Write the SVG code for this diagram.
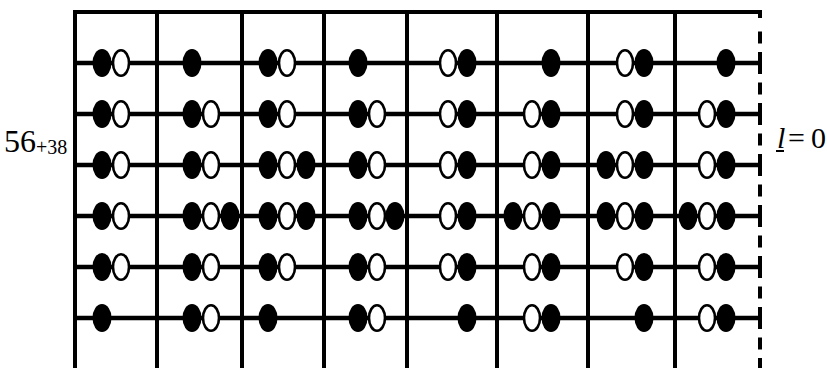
<svg xmlns="http://www.w3.org/2000/svg" xmlns:xlink="http://www.w3.org/1999/xlink" width="827" height="368" viewBox="0 0 827 368">
<style>
.ln{stroke:#000;stroke-width:4;fill:none}
.row{stroke:#000;stroke-width:4.5;fill:none}
.lbl{font-family:"Liberation Serif","Times New Roman",serif;fill:#000}
</style>
<defs>
<ellipse id="F" cx="0" cy="0" rx="9.5" ry="14" fill="#000"/>
<ellipse id="O" cx="0" cy="0" rx="8" ry="12.8" fill="#fff" stroke="#000" stroke-width="2.6"/>
</defs>
<rect width="827" height="368" fill="#fff"/>
<g id="connectors">
<path class="ln" d="M73 12H762"/>
<path class="ln" d="M75 12V368M157 12V368M242 12V368M324 12V368M407 12V368M497 12V368M588 12V368M675 12V368"/>
<path class="row" d="M75 63H760M75 114H760M75 165H760M75 216H760M75 267H760M75 318H760"/>
<path class="ln" d="M760 10V18M760 31.5V43.5M760 52V74M760 82.5V94.5M760 103V125M760 133.5V145.5M760 154V176M760 184.5V196.5M760 205V227M760 235.5V247.5M760 256V278M760 286.5V298.5M760 307V329M760 337.5V349.5M760 358V368"/>
</g>
<g id="r1">
<g id="r1c1"><use href="#O" x="121" y="63"/><use href="#F" x="102" y="63"/></g>
<g id="r1c2"><use href="#F" x="192" y="63"/></g>
<g id="r1c3"><use href="#O" x="287" y="63"/><use href="#F" x="268" y="63"/></g>
<g id="r1c4"><use href="#F" x="358" y="63"/></g>
<g id="r1c5"><use href="#O" x="448" y="63"/><use href="#F" x="467" y="63"/></g>
<g id="r1c6"><use href="#F" x="551" y="63"/></g>
<g id="r1c7"><use href="#O" x="625" y="63"/><use href="#F" x="644" y="63"/></g>
<g id="r1c8"><use href="#F" x="726" y="63"/></g>
</g>
<g id="r2">
<g id="r2c1"><use href="#O" x="121" y="114"/><use href="#F" x="102" y="114"/></g>
<g id="r2c2"><use href="#O" x="211" y="114"/><use href="#F" x="192" y="114"/></g>
<g id="r2c3"><use href="#O" x="287" y="114"/><use href="#F" x="268" y="114"/></g>
<g id="r2c4"><use href="#O" x="377" y="114"/><use href="#F" x="358" y="114"/></g>
<g id="r2c5"><use href="#O" x="448" y="114"/><use href="#F" x="467" y="114"/></g>
<g id="r2c6"><use href="#O" x="532" y="114"/><use href="#F" x="551" y="114"/></g>
<g id="r2c7"><use href="#O" x="625" y="114"/><use href="#F" x="644" y="114"/></g>
<g id="r2c8"><use href="#O" x="707" y="114"/><use href="#F" x="726" y="114"/></g>
</g>
<g id="r3">
<g id="r3c1"><use href="#O" x="121" y="165"/><use href="#F" x="102" y="165"/></g>
<g id="r3c2"><use href="#O" x="211" y="165"/><use href="#F" x="192" y="165"/></g>
<g id="r3c3"><use href="#O" x="287" y="165"/><use href="#F" x="268" y="165"/><use href="#F" x="306" y="165"/></g>
<g id="r3c4"><use href="#O" x="377" y="165"/><use href="#F" x="358" y="165"/></g>
<g id="r3c5"><use href="#O" x="448" y="165"/><use href="#F" x="467" y="165"/></g>
<g id="r3c6"><use href="#O" x="532" y="165"/><use href="#F" x="551" y="165"/></g>
<g id="r3c7"><use href="#O" x="625" y="165"/><use href="#F" x="606" y="165"/><use href="#F" x="644" y="165"/></g>
<g id="r3c8"><use href="#O" x="707" y="165"/><use href="#F" x="726" y="165"/></g>
</g>
<g id="r4">
<g id="r4c1"><use href="#O" x="121" y="216"/><use href="#F" x="102" y="216"/></g>
<g id="r4c2"><use href="#O" x="211" y="216"/><use href="#F" x="192" y="216"/><use href="#F" x="230" y="216"/></g>
<g id="r4c3"><use href="#O" x="287" y="216"/><use href="#F" x="268" y="216"/><use href="#F" x="306" y="216"/></g>
<g id="r4c4"><use href="#O" x="377" y="216"/><use href="#F" x="358" y="216"/><use href="#F" x="395" y="216"/></g>
<g id="r4c5"><use href="#O" x="448" y="216"/><use href="#F" x="467" y="216"/></g>
<g id="r4c6"><use href="#O" x="532" y="216"/><use href="#F" x="513" y="216"/><use href="#F" x="551" y="216"/></g>
<g id="r4c7"><use href="#O" x="625" y="216"/><use href="#F" x="606" y="216"/><use href="#F" x="644" y="216"/></g>
<g id="r4c8"><use href="#O" x="707" y="216"/><use href="#F" x="688" y="216"/><use href="#F" x="726" y="216"/></g>
</g>
<g id="r5">
<g id="r5c1"><use href="#O" x="121" y="267"/><use href="#F" x="102" y="267"/></g>
<g id="r5c2"><use href="#O" x="211" y="267"/><use href="#F" x="192" y="267"/></g>
<g id="r5c3"><use href="#O" x="287" y="267"/><use href="#F" x="268" y="267"/></g>
<g id="r5c4"><use href="#O" x="377" y="267"/><use href="#F" x="358" y="267"/></g>
<g id="r5c5"><use href="#O" x="448" y="267"/><use href="#F" x="467" y="267"/></g>
<g id="r5c6"><use href="#O" x="532" y="267"/><use href="#F" x="551" y="267"/></g>
<g id="r5c7"><use href="#O" x="625" y="267"/><use href="#F" x="644" y="267"/></g>
<g id="r5c8"><use href="#O" x="707" y="267"/><use href="#F" x="726" y="267"/></g>
</g>
<g id="r6">
<g id="r6c1"><use href="#F" x="102" y="318"/></g>
<g id="r6c2"><use href="#O" x="211" y="318"/><use href="#F" x="192" y="318"/></g>
<g id="r6c3"><use href="#F" x="268" y="318"/></g>
<g id="r6c4"><use href="#O" x="377" y="318"/><use href="#F" x="358" y="318"/></g>
<g id="r6c5"><use href="#F" x="467" y="318"/></g>
<g id="r6c6"><use href="#O" x="532" y="318"/><use href="#F" x="551" y="318"/></g>
<g id="r6c7"><use href="#F" x="644" y="318"/></g>
<g id="r6c8"><use href="#O" x="707" y="318"/><use href="#F" x="726" y="318"/></g>
</g>
<g id="label-left">
<text class="lbl" x="4" y="152" font-size="32">56<tspan font-size="20" dy="2">+38</tspan></text>
</g>
<g id="label-right">
<text class="lbl" x="777" y="148" font-size="30" font-style="italic">l</text>
<line x1="776" y1="151" x2="784" y2="151" stroke="#000" stroke-width="2"/>
<text class="lbl" x="788" y="148" font-size="30">=</text>
<text class="lbl" x="811" y="148" font-size="30">0</text>
</g>
</svg>
